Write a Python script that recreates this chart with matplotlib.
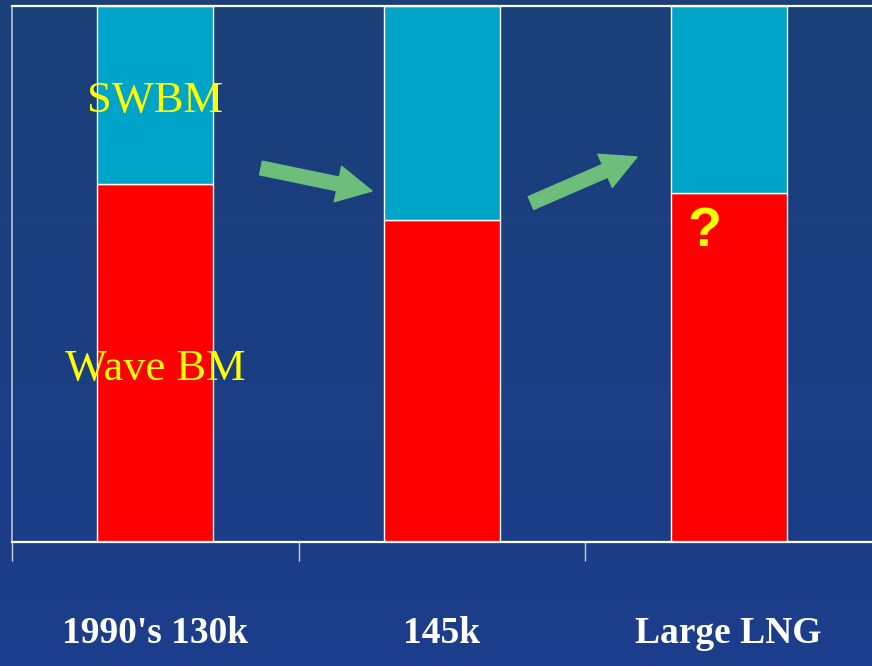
import numpy as np
import matplotlib
matplotlib.use("Agg")
import matplotlib.pyplot as plt

# =================================
# DATA
# =================================

categories = ["1990's 130k", "145k", "Large LNG"]
wave_bm = [66.8, 60.1, 65.1]          # red, bottom part (%)
swbm = [100 - v for v in wave_bm]     # cyan, top part (%)

# =================================
# STYLE
# =================================

bg_top = np.array([27, 64, 121]) / 255
bg_bottom = np.array([28, 61, 140]) / 255
red = "#ff0000"
cyan = "#00a4c9"
yellow = "#ffff00"
green = "#6dbd7b"

fig = plt.figure(figsize=(8.72, 6.66), dpi=100)

# gradient background over the whole figure
bg = fig.add_axes([0, 0, 1, 1], zorder=-10)
grad = np.linspace(0, 1, 256)[:, None, None]
img = bg_top * (1 - grad) + bg_bottom * grad
bg.imshow(np.repeat(img, 2, axis=1), aspect="auto", extent=[0, 1, 0, 1])
bg.axis("off")

ax = fig.add_axes([12 / 872, 1 - 542 / 666, 860 / 872, 536 / 666])
ax.patch.set_alpha(0)

x = np.arange(len(categories))
width = 0.405
ax.bar(x, wave_bm, width, color=red, edgecolor="white", linewidth=1.0)
ax.bar(x, swbm, width, bottom=wave_bm, color=cyan, edgecolor="white", linewidth=1.0)

ax.set_xlim(-0.5, len(categories) - 0.5)
ax.set_ylim(0, 100)

# spines
for s in ["top", "bottom"]:
    ax.spines[s].set_color("white")
    ax.spines[s].set_linewidth(1.6)
ax.spines["left"].set_color("#b9c3d6")
ax.spines["left"].set_linewidth(1.2)
ax.spines["right"].set_visible(False)

# ticks: boundaries get tick marks, centers get labels
ax.set_yticks([])
ax.set_xticks(np.arange(len(categories)) - 0.5)
ax.set_xticklabels([])
ax.tick_params(axis="x", which="major", direction="out", length=14, width=1,
               color="#c9cfdd")
ax.set_xticks(x, minor=True)
ax.set_xticklabels(categories, minor=True, color="white", fontsize=27,
                   fontweight="bold", family="Liberation Serif")
ax.tick_params(axis="x", which="minor", length=0, pad=53)

# labels inside bars
ax.text(0, 82.3, "SWBM", color=yellow, fontsize=32, family="Liberation Serif",
        ha="center", va="center")
ax.text(0, 32.3, "Wave BM", color=yellow, fontsize=32, family="Liberation Serif",
        ha="center", va="center")
ax.text(1.914, 57.8, "?", color=yellow, fontsize=40, fontweight="bold",
        family="Liberation Sans", ha="center", va="center")

# green arrows
arrow = dict(arrowstyle="simple,head_length=1.25,head_width=1.3,tail_width=0.5",
             color=green, shrinkA=0, shrinkB=0, mutation_scale=20)
ax.annotate("", xy=(372, 666 - 191), xytext=(261, 666 - 168),
            xycoords="figure pixels", textcoords="figure pixels", arrowprops=arrow)
ax.annotate("", xy=(637, 666 - 157), xytext=(531, 666 - 203),
            xycoords="figure pixels", textcoords="figure pixels", arrowprops=arrow)

plt.savefig("out.png", dpi=100)
